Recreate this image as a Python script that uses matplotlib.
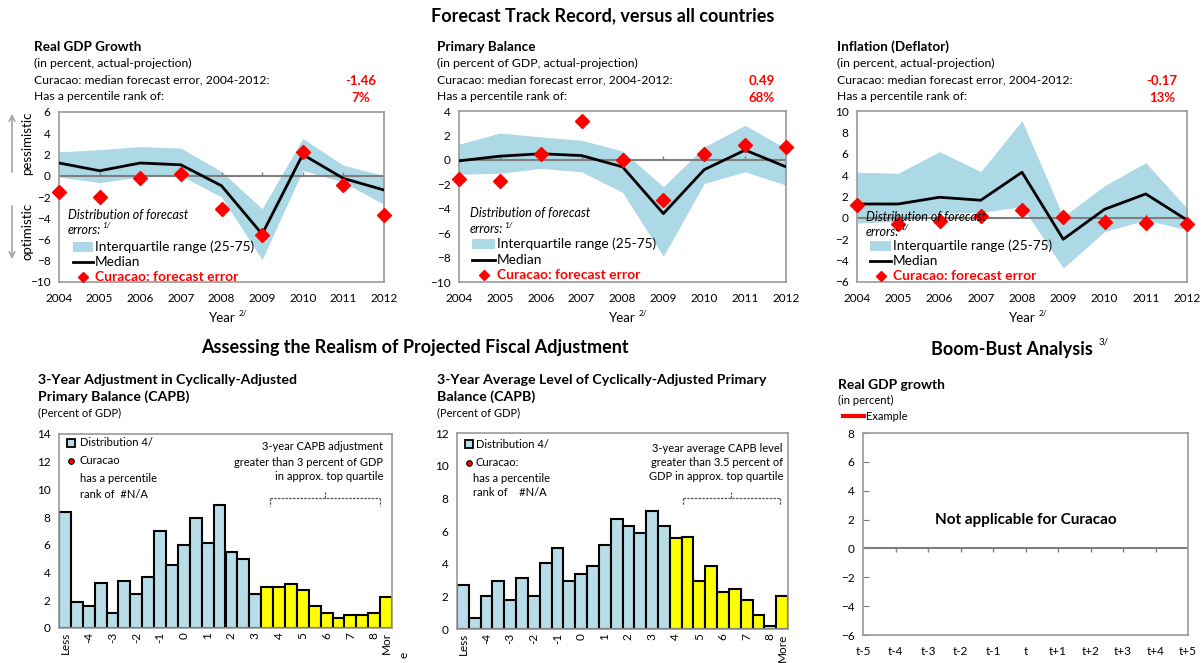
import numpy as np
import matplotlib.pyplot as plt
from matplotlib.patches import Rectangle, FancyArrowPatch
from matplotlib.lines import Line2D

plt.rcParams['font.family'] = ['Lato', 'DejaVu Sans']

# ---- data ----
years = [2004, 2005, 2006, 2007, 2008, 2009, 2010, 2011, 2012]

gdp_median = [1.2, 0.47, 1.2, 1.03, -0.94, -5.5, 2.0, -0.25, -1.34]
gdp_q75 = [2.25, 2.45, 2.75, 2.6, 0.4, -3.1, 3.5, 1.0, 0.0]
gdp_q25 = [-0.1, -0.65, -0.1, 0.0, -2.0, -7.9, 0.5, -0.6, -2.7]
gdp_curacao = [-1.5, -1.97, -0.25, 0.15, -3.1, -5.56, 2.19, -0.84, -3.7]

pb_median = [-0.08, 0.3, 0.5, 0.35, -0.57, -4.4, -0.8, 0.8, -0.57]
pb_q75 = [1.28, 2.2, 1.88, 1.6, 0.73, -2.2, 1.06, 2.83, 0.92]
pb_q25 = [-1.17, -1.1, -0.7, -0.98, -2.66, -7.9, -1.93, -0.98, -2.07]
pb_curacao = [-1.55, -1.71, 0.46, 3.18, -0.03, -3.29, 0.46, 1.25, 1.06]

inf_median = [1.3, 1.3, 1.93, 1.65, 4.27, -2.0, 0.8, 2.24, -0.2]
inf_q75 = [4.27, 4.17, 6.2, 4.33, 9.1, 0.12, 3.0, 5.17, 0.9]
inf_q25 = [-0.5, -0.3, 0.44, 0.5, 1.06, -4.7, -1.28, -0.2, -1.12]
inf_curacao = [1.2, -0.56, -0.28, 0.19, 0.75, 0.06, -0.37, -0.44, -0.59]

adj_labels = ['Less', '', '-4', '', '-3', '', '-2', '', '-1', '', '0', '', '1', '',
              '2', '', '3', '', '4', '', '5', '', '6', '', '7', '', '8', 'Mor']
adj_counts = [8.4, 1.85, 1.56, 3.25, 1.08, 3.39, 2.48, 3.65, 7.02, 4.52, 5.96, 7.96,
              6.13, 8.9, 5.5, 5.0, 2.48, 2.93, 2.93, 3.2, 2.76, 1.56, 1.08, 0.7,
              0.91, 0.91, 1.08, 2.26]
adj_top_start = 17

lvl_labels = ['Less', '', '-4', '', '-3', '', '-2', '', '-1', '', '0', '', '1', '',
              '2', '', '3', '', '4', '', '5', '', '6', '', '7', '', '8', 'More']
lvl_counts = [2.67, 0.67, 2.0, 2.92, 1.8, 3.12, 2.0, 4.04, 4.96, 2.92, 3.39, 3.84,
              5.16, 6.76, 6.29, 5.88, 7.2, 6.29, 5.57, 5.61, 2.92, 3.84, 2.24, 2.47,
              1.8, 0.88, 0.2, 2.0]
lvl_top_start = 18

bb_labels = ['t-5', 't-4', 't-3', 't-2', 't-1', 't', 't+1', 't+2', 't+3', 't+4', 't+5']

# ---- layout helpers (pixel coords, origin top-left) ----
W, H = 1204, 663
fig = plt.figure(figsize=(W / 100, H / 100), dpi=100)

BAND = '#ADD8E6'
BLUE = '#B7DDE8'
FRAME = '#999999'


def axes_px(l, r, t, b):
    return fig.add_axes([l / W, 1 - b / H, (r - l) / W, (b - t) / H])


def txt(x, y, s, **kw):
    kw.setdefault('va', 'center')
    kw.setdefault('size', 8)
    return fig.text(x / W, 1 - y / H, s, **kw)


def style_frame(ax):
    for sp in ax.spines.values():
        sp.set_color(FRAME)
        sp.set_linewidth(1.2)


def track_panel(ax, med, q75, q25, cur, ylo, yhi, step):
    ax.fill_between(years, q25, q75, color=BAND, lw=0, zorder=1)
    ax.axhline(0, color='#7f7f7f', lw=1.5, zorder=2)
    tl = (yhi - ylo) * 4 / 170
    ax.vlines(years[1:-1], 0, tl, color='#7f7f7f', lw=1, zorder=2)
    ax.plot(years, med, color='black', lw=2, zorder=3)
    ax.plot(years, cur, ls='none', marker='D', ms=6.8, color='#FF0000', mec='#FF0000', zorder=4, clip_on=False)
    ax.set_xlim(years[0], years[-1])
    ax.set_ylim(ylo, yhi)
    ax.set_yticks(np.arange(ylo, yhi + 0.1, step))
    ax.set_xticks(years)
    ax.tick_params(length=0, labelsize=8.5, pad=6)
    ax.tick_params(axis='x', pad=8)
    style_frame(ax)


def track_header(x, title, sub, val, rank, vx):
    txt(x, 47, title, weight='bold', size=9.7)
    txt(x, 63, sub, size=8.8)
    txt(x, 80, 'Curacao: median forecast error, 2004-2012:', size=8.7)
    txt(x, 96, 'Has a percentile rank of:', size=8.7)
    txt(vx, 81, val, color='#FF0000', weight='bold', size=9.5, ha='center')
    txt(vx, 98, rank, color='#FF0000', weight='bold', size=9.5, ha='center')


def track_legend(xi, pl, pr, ys):
    txt(xi, ys[0], 'Distribution of forecast', style='italic', size=9)
    txt(xi, ys[1], 'errors:', style='italic', size=9)
    txt(xi + 34, ys[1] - 4, '1/', style='italic', size=6)
    fig.add_artist(Rectangle((pl / W, 1 - (ys[2] + 5) / H), (pr - pl) / W, 10 / H,
                             transform=fig.transFigure, color=BAND, lw=0))
    txt(pr + 2, ys[2], 'Interquartile range (25-75)', size=9.8)
    fig.add_artist(Line2D([pl / W, pr / W], [1 - ys[3] / H] * 2, transform=fig.transFigure,
                          color='black', lw=2))
    txt(pr + 2, ys[3], 'Median', size=9.8)
    fig.add_artist(Line2D([(pl + pr) / 2 / W], [1 - ys[4] / H], transform=fig.transFigure,
                          marker='D', ms=5, color='#FF0000', ls='none'))
    txt(pr + 2, ys[4], 'Curacao: forecast error', size=10, color='#FF0000', weight='bold')


def year_label(cx):
    txt(cx, 318, 'Year', size=9.5, ha='center')
    txt(cx + 17, 313, '2/', size=6)


# ---- titles ----
txt(603, 16, 'Forecast Track Record, versus all countries', weight='bold', size=13, ha='center')
txt(415, 348, 'Assessing the Realism of Projected Fiscal Adjustment', weight='bold', size=13, ha='center')
txt(1012, 349, 'Boom-Bust Analysis', weight='bold', size=13, ha='center')
txt(1099, 342, '3/', size=7)

# ---- top row ----
ax1 = axes_px(59, 384, 112, 282)
track_panel(ax1, gdp_median, gdp_q75, gdp_q25, gdp_curacao, -10, 6, 2)
track_header(34, 'Real GDP Growth', '(in percent, actual-projection)', '-1.46', '7%', 361)
track_legend(68, 73, 93, [215, 230, 247, 262, 277])
year_label(222)

ax2 = axes_px(459, 786, 111, 282)
track_panel(ax2, pb_median, pb_q75, pb_q25, pb_curacao, -10, 4, 2)
track_header(437, 'Primary Balance', '(in percent of GDP, actual-projection)', '0.49', '68%', 762)
track_legend(470, 472, 495, [213, 229, 244, 260, 275])
year_label(622)

ax3 = axes_px(857, 1187, 111, 282)
track_panel(ax3, inf_median, inf_q75, inf_q25, inf_curacao, -6, 10, 2)
track_header(837, 'Inflation (Deflator)', '(in percent, actual-projection)', '-0.17', '13%', 1162)
track_legend(866, 870, 891, [217, 232, 246, 261, 276])
year_label(1022)

# pessimistic / optimistic arrows
fig.add_artist(FancyArrowPatch((12 / W, 1 - 175 / H), (12 / W, 1 - 111 / H), transform=fig.transFigure,
                               arrowstyle='->', mutation_scale=10, color='#A6A6A6', lw=1.2))
fig.add_artist(FancyArrowPatch((12 / W, 1 - 203 / H), (12 / W, 1 - 262 / H), transform=fig.transFigure,
                               arrowstyle='->', mutation_scale=10, color='#A6A6A6', lw=1.2))
txt(27, 143, 'pessimistic', rotation=90, ha='center', size=9.5)
txt(27, 231, 'optimistic', rotation=90, ha='center', size=9.5)


# ---- bottom row: histograms ----
def hist_panel(ax, counts, labels, top_start, ymax):
    idx = np.arange(len(counts))
    colors = [BLUE if i < top_start else '#FFFF00' for i in idx]
    ax.bar(idx, counts, width=1.0, color=colors, edgecolor='black', lw=1.5, zorder=2)
    ax.set_xlim(-0.5, len(counts) - 0.5)
    ax.set_ylim(0, ymax)
    ax.set_yticks(np.arange(0, ymax + 0.1, 2))
    ax.set_xticks(idx)
    ax.set_xticklabels(labels, rotation=90, size=8.5)
    ax.tick_params(axis='y', length=0, labelsize=8.5, pad=6)
    ax.tick_params(axis='x', length=0, pad=3)
    style_frame(ax)


def bracket(ax, x0, x1, xm, y, yend, ytop):
    kw = dict(color='#555555', lw=0.9, ls=(0, (2, 1)), zorder=3)
    ax.plot([x0, x1], [y, y], **kw)
    ax.plot([x0, x0], [y, yend], **kw)
    ax.plot([x1, x1], [y, yend], **kw)
    ax.plot([xm, xm], [y, ytop], **kw)


def hist_legend(xp, xt, ys, lines, dot_label):
    fig.add_artist(Rectangle(((xp - 4) / W, 1 - (ys[0] + 4) / H), 8 / W, 8 / H, transform=fig.transFigure,
                             facecolor=BLUE, edgecolor='black', lw=1.3))
    txt(xt, ys[0], 'Distribution 4/', size=8)
    fig.add_artist(Line2D([xp / W], [1 - ys[1] / H], transform=fig.transFigure, marker='o', ms=4,
                          color='#FF0000', mec='black', mew=0.8, ls='none'))
    txt(xt, ys[1], dot_label, size=8)
    txt(lines[0], ys[2], 'has a percentile', size=8)
    txt(lines[0], ys[3], lines[1], size=8)


ax4 = axes_px(59, 392, 434, 628)
hist_panel(ax4, adj_counts, adj_labels, adj_top_start, 14)
bracket(ax4, 17.25, 26.5, 21.9, 9.4, 8.8, 9.85)
txt(38, 380, '3-Year Adjustment in Cyclically-Adjusted', weight='bold', size=10.2)
txt(38, 397, 'Primary Balance (CAPB)', weight='bold', size=10.2)
txt(38, 413, '(Percent of GDP)', size=8)
hist_legend(71, 80, [443, 461, 478, 494], [80, 'rank of  #N/A'], 'Curacao')
for y, s in zip([446, 462, 477], ['3-year CAPB adjustment', 'greater than 3 percent of GDP',
                                  'in approx. top quartile']):
    txt(383, y, s, size=8, ha='right')
txt(404, 655, 'e', size=8.5, rotation=90, ha='center')

ax5 = axes_px(457, 788, 433, 629)
hist_panel(ax5, lvl_counts, lvl_labels, lvl_top_start, 12)
bracket(ax5, 18.65, 26.8, 22.7, 8.0, 7.6, 8.4)
txt(437, 380, '3-Year Average Level of Cyclically-Adjusted Primary', weight='bold', size=10.2)
txt(437, 397, 'Balance (CAPB)', weight='bold', size=10.2)
txt(437, 413, '(Percent of GDP)', size=8)
hist_legend(469, 476, [444, 463, 478, 493], [473, 'rank of    #N/A'], 'Curacao:')
for y, s in zip([448, 462, 477], ['3-year average CAPB level', 'greater than 3.5 percent of',
                                  'GDP in approx. top quartile']):
    txt(783, y, s, size=8, ha='right')

# ---- bottom right: boom-bust ----
ax6 = axes_px(863, 1188, 433, 635)
ax6.set_xlim(0, len(bb_labels) - 1)
ax6.set_ylim(-6, 8)
ax6.set_yticks(np.arange(-6, 8.1, 2))
ax6.set_xticks(range(len(bb_labels)))
ax6.set_xticklabels(bb_labels)
ax6.axhline(0, color='#7f7f7f', lw=1.5)
ax6.vlines(range(1, len(bb_labels) - 1), -14 * 4 / 202, 0, color='#7f7f7f', lw=1)
ax6.tick_params(axis='y', direction='in', length=4, color='#7f7f7f', labelsize=8.5, pad=6)
ax6.tick_params(axis='x', length=0, labelsize=8.5, pad=8)
style_frame(ax6)
ax6.text(5, 2, 'Not applicable for Curacao', ha='center', va='center', weight='bold', size=11)
txt(838, 385, 'Real GDP growth', weight='bold', size=9.9)
txt(838, 400, '(in percent)', size=8)
fig.add_artist(Line2D([843 / W, 864 / W], [1 - 416 / H] * 2, transform=fig.transFigure,
                      color='#FF0000', lw=3))
txt(866, 416, 'Example', size=8)

fig.savefig('out.png', dpi=100)
